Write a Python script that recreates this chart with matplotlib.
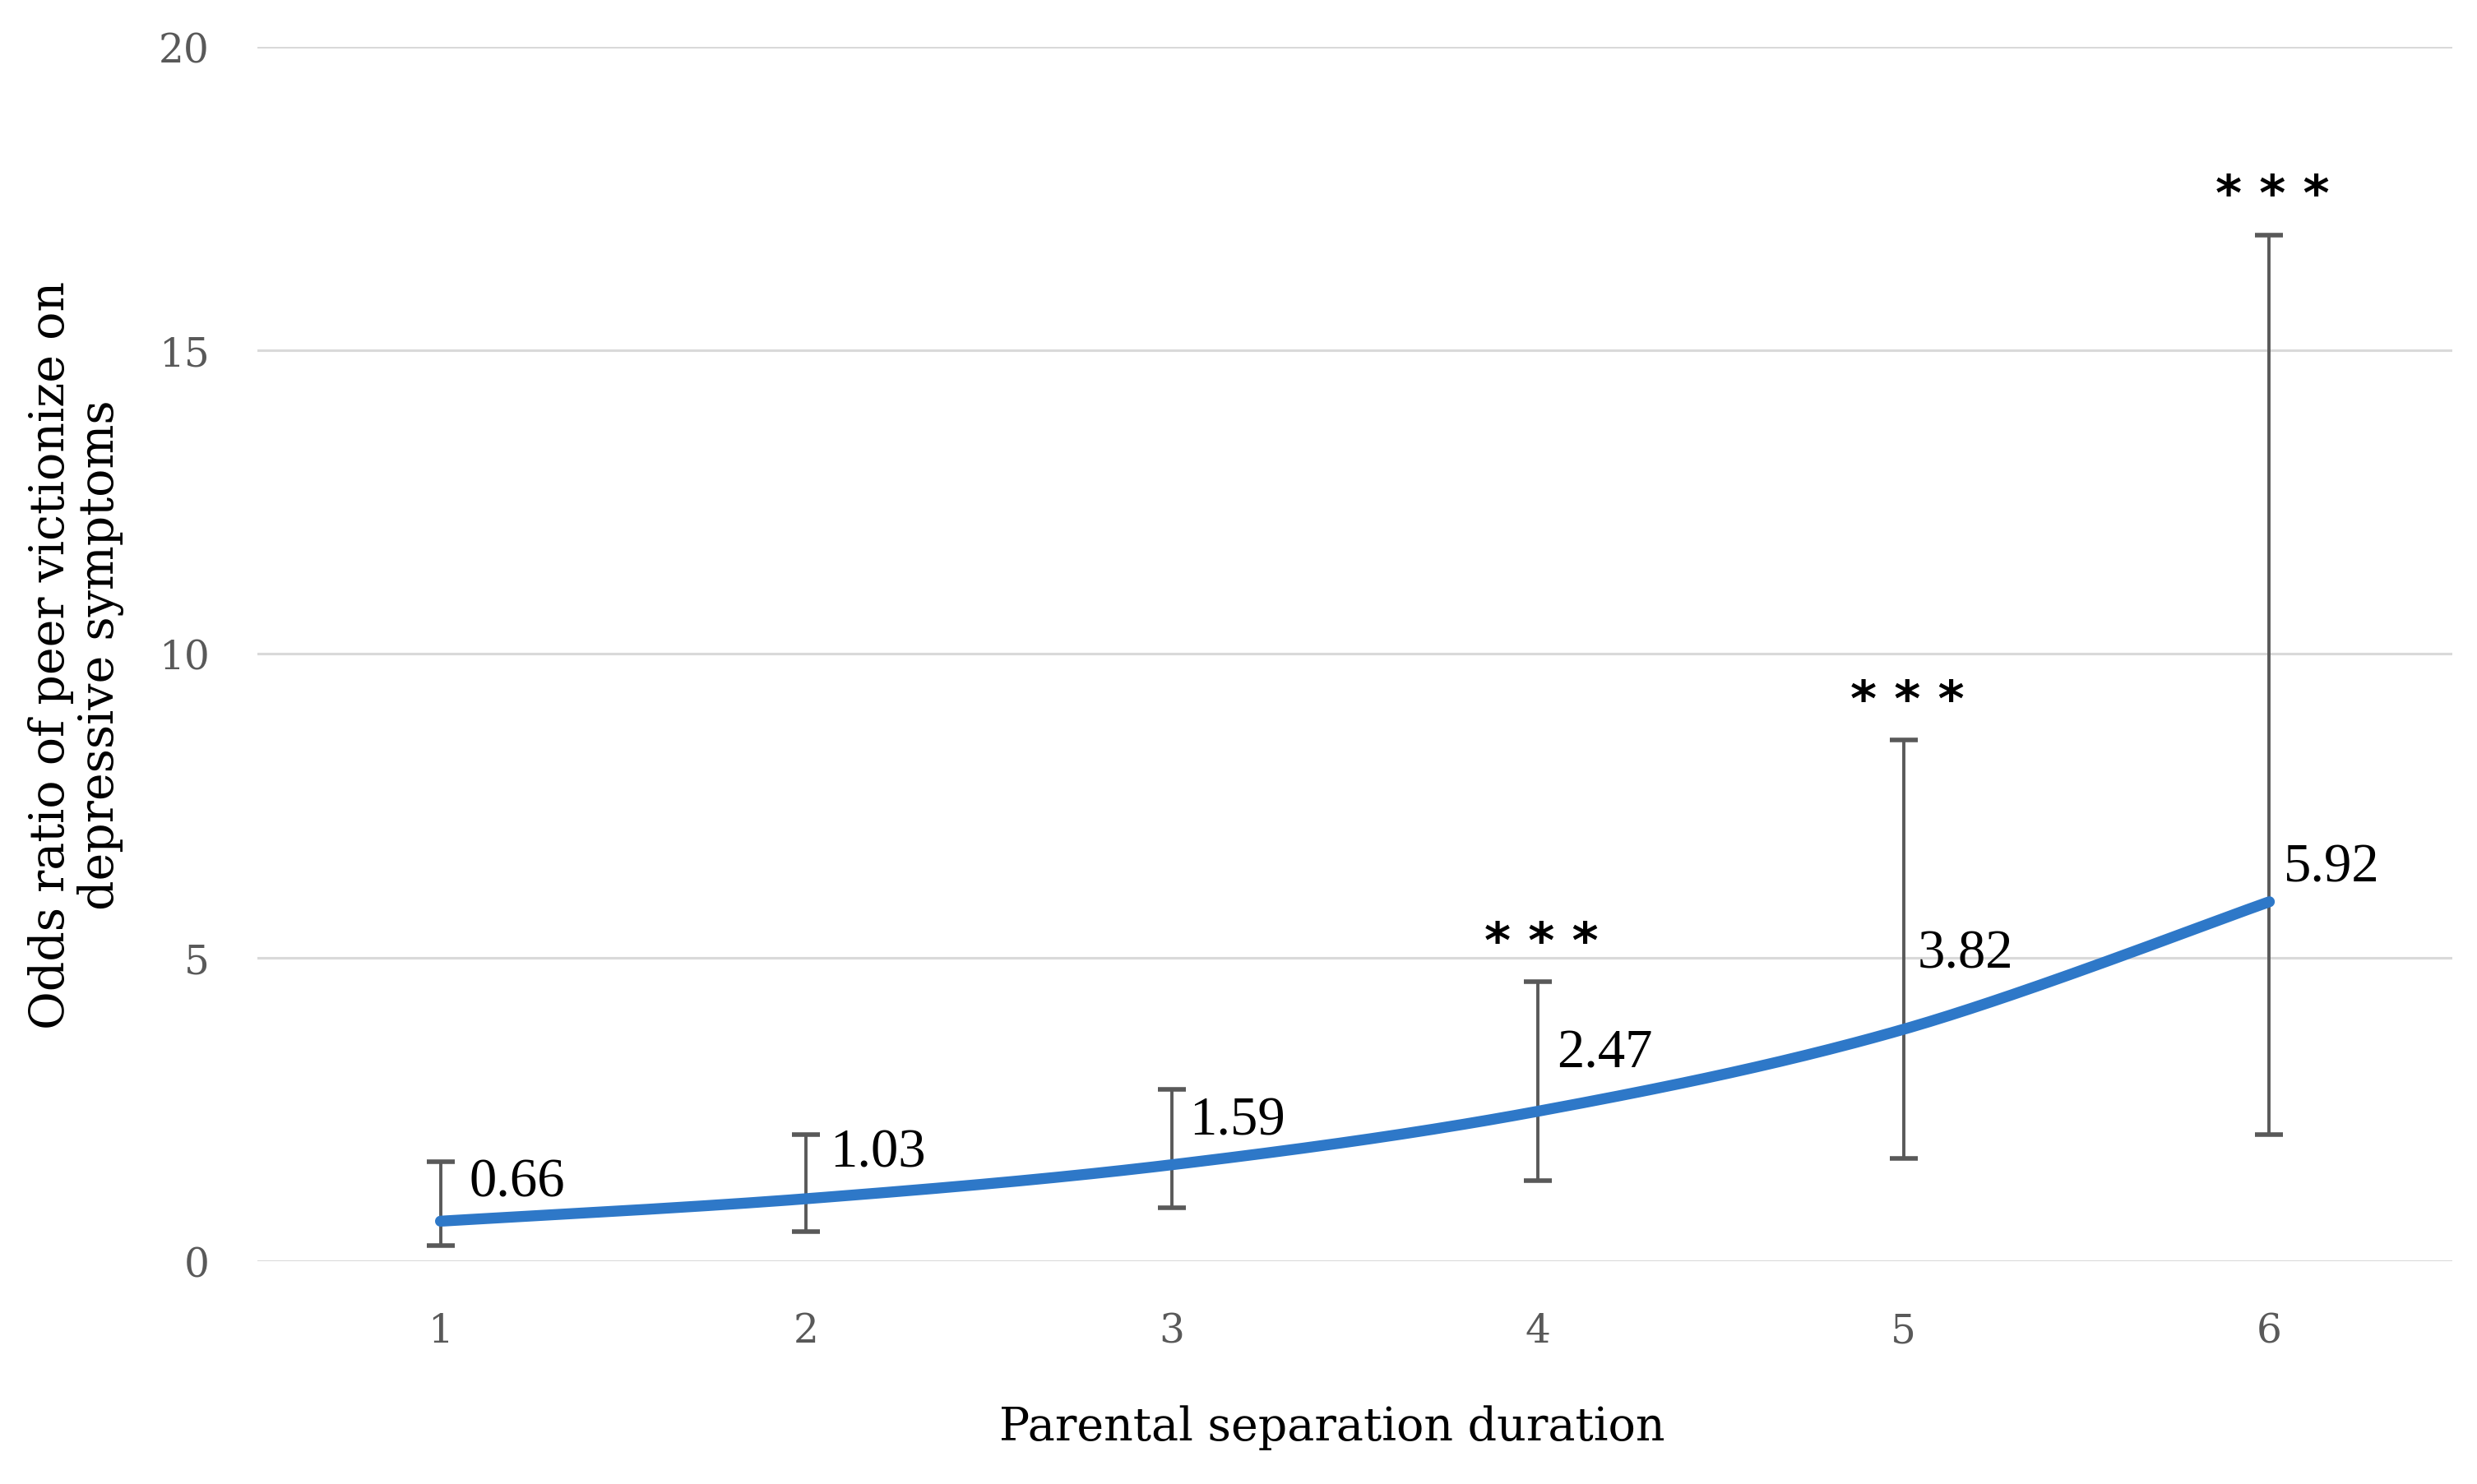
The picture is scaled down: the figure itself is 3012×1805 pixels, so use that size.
import numpy as np
import matplotlib
matplotlib.use("Agg")
import matplotlib.pyplot as plt

# ---- data ----
durations = [1, 2, 3, 4, 5, 6]
odds_ratio = [0.66, 1.03, 1.59, 2.47, 3.82, 5.92]
ci_lower = [0.26, 0.49, 0.88, 1.33, 1.69, 2.08]
ci_upper = [1.64, 2.08, 2.83, 4.60, 8.58, 16.90]
significance = ["", "", "", "***", "***", "***"]
y_ticks = [0, 5, 10, 15, 20]

# label placement (points)
label_dx = [12.4, 10.4, 7.6, 8.3, 6.2, 6.2]
label_dy = [17, 20, 19.4, 25.6, 33, 15.2]

SERIF = ["Liberation Serif", "DejaVu Serif"]
WSERIF = ["DejaVu Serif"]

fig = plt.figure(figsize=(15.06, 9.03), dpi=200)
ax = fig.add_axes([0.104, 0.150, 0.886, 0.818])

x = np.array(durations, dtype=float)
y = np.array(odds_ratio, dtype=float)

# Excel-like smoothed line (Catmull-Rom Bezier through the points)
pts = np.column_stack([x, y])
ext = np.vstack([pts[0], pts, pts[-1]])
curve = []
t = np.linspace(0, 1, 60)
for i in range(len(pts) - 1):
    p0, p1, p2, p3 = ext[i], ext[i + 1], ext[i + 2], ext[i + 3]
    b1 = p1 + (p2 - p0) / 6.0
    b2 = p2 - (p3 - p1) / 6.0
    seg = ((1 - t) ** 3)[:, None] * p1 + (3 * (1 - t) ** 2 * t)[:, None] * b1 \
        + (3 * (1 - t) * t ** 2)[:, None] * b2 + (t ** 3)[:, None] * p2
    curve.append(seg)
curve = np.vstack(curve)

# grid
for yt in y_ticks:
    ax.axhline(yt, color="#d9d9d9", lw=1.1, zorder=0)

# error bars
yerr = np.array([y - np.array(ci_lower), np.array(ci_upper) - y])
ax.errorbar(x, y, yerr=yerr, fmt="none", ecolor="#595959", elinewidth=1.4,
            capsize=6, capthick=2.0, zorder=2)

ax.plot(curve[:, 0], curve[:, 1], color="#2e78c8", lw=4.8,
        solid_capstyle="round", zorder=3)

# data labels
for xi, yi, dx, dy in zip(x, y, label_dx, label_dy):
    ax.annotate(f"{yi:.2f}", (xi, yi), xytext=(dx, dy), textcoords="offset points",
                ha="left", va="center", fontsize=24, family=SERIF, color="black",
                zorder=4)

# significance stars
for xi, up, s in zip(x, ci_upper, significance):
    if s:
        ax.annotate(" ".join(s), (xi, up), xytext=(1.5, 17), textcoords="offset points",
                    ha="center", va="center", fontsize=22, fontweight="bold",
                    family=["DejaVu Sans"], color="black", zorder=4)

ax.set_xlim(0.5, 6.5)
ax.set_ylim(0, 20)
ax.set_xticks(durations)
ax.set_xticklabels([str(d) for d in durations])
ax.set_yticks(y_ticks)
ax.set_yticklabels([str(v) for v in y_ticks])
for lab in ax.get_xticklabels() + ax.get_yticklabels():
    lab.set_family(WSERIF)
    lab.set_fontsize(17.5)
    lab.set_color("#595959")
ax.tick_params(axis="both", length=0)
ax.tick_params(axis="x", pad=22)
ax.tick_params(axis="y", pad=21)
for sp in ax.spines.values():
    sp.set_visible(False)

ax.set_xlabel("Parental separation duration", fontsize=20, family=WSERIF,
              color="black")
ax.xaxis.set_label_coords(0.4896, -0.118)
ax.set_ylabel("Odds ratio of peer victionize on\ndepressive symptoms", fontsize=20.5,
              family=WSERIF, color="black", labelpad=15, linespacing=1.1)

fig.savefig("out.png", dpi=200, facecolor="white")
